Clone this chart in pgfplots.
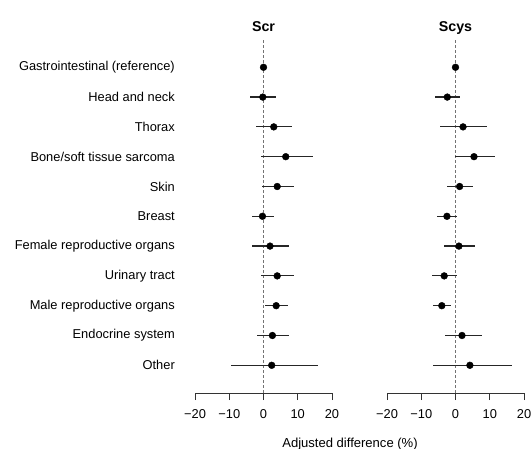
\documentclass[border=0pt]{standalone}
\usepackage{pgfplots}
\pgfplotsset{compat=1.18}
\usepackage{pgfplotstable}
\usepackage{fontspec}
\setmainfont{Liberation Sans}

\pgfplotstableread{
y est lo hi
11 0 0 0
10 -0.2 -3.9 3.7
9 3.0 -2.2 8.3
8 6.5 -0.7 14.4
7 4.0 -0.5 8.9
6 -0.3 -3.4 3.1
5 1.9 -3.3 7.3
4 4.0 -0.7 9.0
3 3.7 0.5 7.1
2 2.6 -2.0 7.5
1 2.4 -9.6 15.9
}\scrtable

\pgfplotstableread{
y est lo hi
11 0 0 0
10 -2.4 -5.9 1.2
9 2.2 -4.4 9.1
8 5.4 -0.1 11.6
7 1.2 -2.6 5.2
6 -2.5 -5.5 0.4
5 1.0 -3.5 5.7
4 -3.3 -6.9 0.4
3 -4.0 -6.6 -1.2
2 1.9 -3.2 7.6
1 4.2 -6.6 16.4
}\scystable

\pgfplotsset{
  forest/.style={
    scale only axis,
    width=137bp, height=355bp,
    xmin=-20, xmax=20,
    ymin=0.0705, ymax=11.983,
    axis x line=bottom,
    axis y line=left,
    axis line style={-, line width=0.8bp, black!80},
    y axis line style={draw=none},
    xtick={-20,-10,0,10,20},
    xticklabels={−20,−10,0,10,20},
    tick align=outside,
    major tick length=7bp,
    xtick style={line width=0.8bp, black!80},
    ytick style={draw=none},
    font=\fontsize{12.9}{15}\selectfont,
    xticklabel style={anchor=base, yshift=-18.6bp, inner sep=0pt},
    title style={at={(0.5,1)}, anchor=base, yshift=0.3bp, font=\fontsize{14.3}{16}\selectfont\bfseries, inner sep=0pt},
    clip=false,
  },
  ci/.style={
    only marks, mark=*, mark size=3.4bp, black,
    error bars/.cd, x dir=both, x explicit,
    error mark=none,
    error bar style={line width=1.2bp, black!85},
  },
}

\begin{document}
\begin{tikzpicture}
\useasboundingbox (0,0) rectangle (531bp,449bp);

\begin{axis}[forest, at={(195bp,56bp)}, anchor=south west,
  title={Scr},
  ytick={1,...,11},
  yticklabels={Other, Endocrine system, Male reproductive organs, Urinary tract, Female reproductive organs, Breast, Skin, Bone/soft tissue sarcoma, Thorax, Head and neck, Gastrointestinal (reference)},
  yticklabel style={anchor=east, inner sep=0pt, xshift=-13bp},
]
\addplot[black!55, line width=0.8bp, dash pattern=on 3bp off 2bp] coordinates {(0,0.0705) (0,11.983)};
\addplot[ci] table[x=est, y=y,
  x error plus expr=\thisrow{hi}-\thisrow{est},
  x error minus expr=\thisrow{est}-\thisrow{lo}] {\scrtable};
\end{axis}

\begin{axis}[forest, at={(387bp,56bp)}, anchor=south west,
  title={Scys},
  ytick=\empty,
]
\addplot[black!55, line width=0.8bp, dash pattern=on 3bp off 2bp] coordinates {(0,0.0705) (0,11.983)};
\addplot[ci] table[x=est, y=y,
  x error plus expr=\thisrow{hi}-\thisrow{est},
  x error minus expr=\thisrow{est}-\thisrow{lo}] {\scystable};
\end{axis}

\node[anchor=base, inner sep=0pt, font=\fontsize{13.1}{15}\selectfont] at (350bp,2bp) {Adjusted difference (\%)};
\end{tikzpicture}
\end{document}
